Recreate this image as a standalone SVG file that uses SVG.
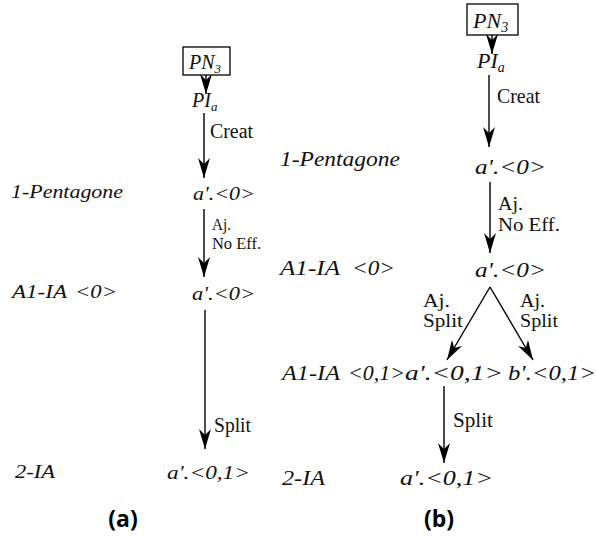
<svg xmlns="http://www.w3.org/2000/svg" width="596" height="536" viewBox="0 0 596 536">
<style>
.m{font-family:'Liberation Serif','Times New Roman','DejaVu Serif',serif;font-style:italic;fill:#111}
.t{font-family:'Liberation Serif','Times New Roman','DejaVu Serif',serif;fill:#111}
.cap{font-family:'Open Sans','DejaVu Sans',sans-serif;font-weight:bold;font-size:23px;fill:#000}
.ln{stroke:#000;stroke-width:1.4;fill:none}
.box{stroke:#000;stroke-width:1.3;fill:#fff}
</style>
<defs>
<marker id="ah" markerUnits="userSpaceOnUse" markerWidth="20" markerHeight="12" refX="20" refY="6" orient="auto" viewBox="0 0 20 12">
<path d="M0,0 L20,6 L0,12 L6,6 Z" fill="#000"/>
</marker>
</defs>
<rect width="596" height="536" fill="#fff"/>
<g id="connectors">
<line class="ln" x1="206" y1="75" x2="206" y2="94" marker-end="url(#ah)"/>
<line class="ln" x1="204" y1="113" x2="204" y2="178" marker-end="url(#ah)"/>
<line class="ln" x1="204" y1="209" x2="204" y2="277" marker-end="url(#ah)"/>
<line class="ln" x1="205" y1="310" x2="205" y2="449" marker-end="url(#ah)"/>
<line class="ln" x1="492" y1="35" x2="492" y2="54" marker-end="url(#ah)"/>
<line class="ln" x1="489" y1="75" x2="489" y2="147" marker-end="url(#ah)"/>
<line class="ln" x1="490" y1="182" x2="490" y2="253" marker-end="url(#ah)"/>
<line class="ln" x1="490" y1="287" x2="447" y2="360" marker-end="url(#ah)"/>
<line class="ln" x1="490" y1="287" x2="533" y2="360" marker-end="url(#ah)"/>
<line class="ln" x1="444" y1="386" x2="444" y2="463" marker-end="url(#ah)"/>
</g>
<g id="a-pn3"><rect class="box" x="183" y="47" width="47" height="28"/><text class="m" x="189" y="69" font-size="20">PN<tspan font-size="13" dy="4">3</tspan></text></g>
<g id="a-pia"><text class="m" x="192" y="107" font-size="20">PI<tspan font-size="13" dy="4">a</tspan></text></g>
<g id="a-lbl"><text class="t" x="210" y="138" font-size="20" textLength="43" lengthAdjust="spacingAndGlyphs">Creat</text>
<text class="t" x="212" y="230" font-size="17" textLength="19" lengthAdjust="spacingAndGlyphs">Aj.</text>
<text class="t" x="212" y="249" font-size="17" textLength="49" lengthAdjust="spacingAndGlyphs">No Eff.</text>
<text class="t" x="214" y="432" font-size="20" textLength="37" lengthAdjust="spacingAndGlyphs">Split</text></g>
<g id="a-row1"><text class="m" x="11" y="198" font-size="18" textLength="112" lengthAdjust="spacingAndGlyphs">1-Pentagone</text>
<text class="m" x="193" y="200" font-size="18" textLength="62" lengthAdjust="spacingAndGlyphs">a'.&lt;0&gt;</text></g>
<g id="a-row2"><text class="m" x="12" y="298" font-size="18" textLength="55" lengthAdjust="spacingAndGlyphs">A1-IA</text>
<text class="m" x="75" y="298" font-size="18" textLength="42" lengthAdjust="spacingAndGlyphs">&lt;0&gt;</text>
<text class="m" x="192" y="300" font-size="18" textLength="63" lengthAdjust="spacingAndGlyphs">a'.&lt;0&gt;</text></g>
<g id="a-row3"><text class="m" x="15" y="478" font-size="18" textLength="40" lengthAdjust="spacingAndGlyphs">2-IA</text>
<text class="m" x="167" y="479" font-size="18" textLength="83" lengthAdjust="spacingAndGlyphs">a'.&lt;0,1&gt;</text></g>
<g id="b-pn3"><rect class="box" x="467" y="4" width="51" height="31"/><text class="m" x="473" y="28" font-size="22">PN<tspan font-size="14" dy="4">3</tspan></text></g>
<g id="b-pia"><text class="m" x="477" y="68" font-size="22">PI<tspan font-size="14" dy="4">a</tspan></text></g>
<g id="b-lbl"><text class="t" x="497" y="103" font-size="22" textLength="43" lengthAdjust="spacingAndGlyphs">Creat</text>
<text class="t" x="498" y="210" font-size="19" textLength="25" lengthAdjust="spacingAndGlyphs">Aj.</text>
<text class="t" x="498" y="231" font-size="19" textLength="62" lengthAdjust="spacingAndGlyphs">No Eff.</text>
<text class="t" x="423" y="307" font-size="18" textLength="27" lengthAdjust="spacingAndGlyphs">Aj.</text>
<text class="t" x="423" y="327" font-size="18" textLength="40" lengthAdjust="spacingAndGlyphs">Split</text>
<text class="t" x="520" y="307" font-size="18" textLength="25" lengthAdjust="spacingAndGlyphs">Aj.</text>
<text class="t" x="520" y="327" font-size="18" textLength="38" lengthAdjust="spacingAndGlyphs">Split</text>
<text class="t" x="453" y="427" font-size="21" textLength="40" lengthAdjust="spacingAndGlyphs">Split</text></g>
<g id="b-row1"><text class="m" x="280" y="166" font-size="20" textLength="120" lengthAdjust="spacingAndGlyphs">1-Pentagone</text>
<text class="m" x="475" y="174" font-size="20" textLength="71" lengthAdjust="spacingAndGlyphs">a'.&lt;0&gt;</text></g>
<g id="b-row2"><text class="m" x="280" y="275" font-size="20" textLength="60" lengthAdjust="spacingAndGlyphs">A1-IA</text>
<text class="m" x="352" y="275" font-size="20" textLength="43" lengthAdjust="spacingAndGlyphs">&lt;0&gt;</text>
<text class="m" x="475" y="277" font-size="20" textLength="71" lengthAdjust="spacingAndGlyphs">a'.&lt;0&gt;</text></g>
<g id="b-row3"><text class="m" x="282" y="380" font-size="20" textLength="58" lengthAdjust="spacingAndGlyphs">A1-IA</text>
<text class="m" x="348" y="380" font-size="20" textLength="57" lengthAdjust="spacingAndGlyphs">&lt;0,1&gt;</text>
<text class="m" x="405" y="380" font-size="20" textLength="98" lengthAdjust="spacingAndGlyphs">a'.&lt;0,1&gt;</text>
<text class="m" x="508" y="380" font-size="20" textLength="88" lengthAdjust="spacingAndGlyphs">b'.&lt;0,1&gt;</text></g>
<g id="b-row4"><text class="m" x="282" y="485" font-size="20" textLength="43" lengthAdjust="spacingAndGlyphs">2-IA</text>
<text class="m" x="400" y="485" font-size="20" textLength="93" lengthAdjust="spacingAndGlyphs">a'.&lt;0,1&gt;</text></g>
<g id="captions"><text class="cap" x="123" y="527" text-anchor="middle">(a)</text>
<text class="cap" x="439" y="527" text-anchor="middle">(b)</text></g>
</svg>
